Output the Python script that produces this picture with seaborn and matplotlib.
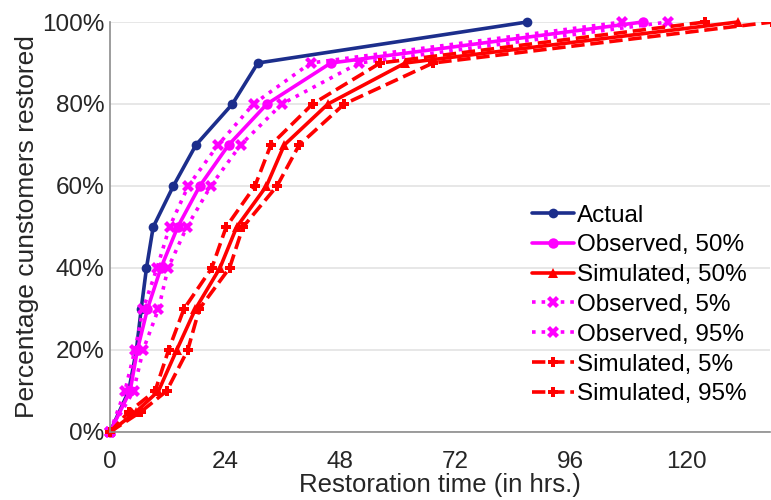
import matplotlib
matplotlib.use("Agg")
import matplotlib.pyplot as plt
import seaborn as sns
import numpy as np
import pandas as pd
from matplotlib.ticker import FuncFormatter

# ---- data (hours vs percentage restored) ----
pct = [0, 10, 20, 30, 40, 50, 60, 70, 80, 90, 100]
pct_sim = [0, 5, 10, 20, 30, 40, 50, 60, 70, 80, 90, 100]

actual_x = [0, 3.9, 5.5, 6.5, 7.6, 9.0, 13.2, 17.9, 25.5, 30.8, 86.9]
obs50_x = [0, 4.2, 5.7, 7.8, 10.6, 14.1, 18.7, 24.7, 32.7, 46.0, 111.0]
obs5_x = [0, 3.1, 5.2, 6.9, 9.8, 12.4, 16.3, 22.5, 29.9, 41.8, 106.7]
obs95_x = [0, 4.9, 6.9, 10.1, 12.1, 16.0, 21.0, 27.2, 35.8, 51.9, 116.2]
sim50_x = [0, 5.5, 10.1, 13.9, 17.8, 22.9, 26.4, 32.6, 36.3, 45.4, 61.5, 130.8]
sim5_x = [0, 4.0, 9.4, 12.2, 15.4, 21.2, 24.2, 30.2, 33.5, 42.2, 56.3, 124.0]
sim95_x = [0, 6.5, 11.8, 16.2, 18.6, 24.9, 27.7, 34.8, 39.4, 48.8, 67.3, 138.0]

xticks = [0, 24, 48, 72, 96, 120]
yticks = [0, 20, 40, 60, 80, 100]

navy = "#1c2e8c"
mag = "#ff00ff"
red = "#ff0000"

sns.set_theme(style="white")
plt.rcParams["font.family"] = ["Liberation Sans", "DejaVu Sans"]

fig = plt.figure(figsize=(7.71, 5.00), dpi=100)
ax = fig.add_axes([110 / 771, 1 - 432 / 500, 660 / 771, 410 / 500])

lw = 2.6
series = [
    (actual_x, pct, "Actual", navy, "-", "o", 7),
    (obs50_x, pct, "Observed, 50%", mag, "-", "o", 7.5),
    (sim50_x, pct_sim, "Simulated, 50%", red, "-", "^", 7),
    (obs5_x, pct, "Observed, 5%", mag, ":", "X", 8),
    (obs95_x, pct, "Observed, 95%", mag, ":", "X", 8),
    (sim5_x, pct_sim, "Simulated, 5%", red, "--", "P", 7),
    (sim95_x, pct_sim, "Simulated, 95%", red, "--", "P", 7),
]
for xs, ys, lab, col, ls, mk, ms in series:
    clip = lab == "Simulated, 95%"
    sns.lineplot(x=xs, y=ys, ax=ax, color=col, linestyle=ls, marker=mk,
                 markersize=ms, markeredgewidth=0, linewidth=lw, label=lab,
                 sort=False, estimator=None, clip_on=clip)

ax.set_xlim(0, 137.5)
ax.set_ylim(0, 100)
ax.set_xticks(xticks)
ax.set_yticks(yticks)
ax.yaxis.set_major_formatter(FuncFormatter(lambda v, p: f"{int(v)}%"))

ax.grid(axis="y", color="#e3e3e3", linewidth=1.2)
ax.grid(axis="x", visible=False)
for s in ["top", "right"]:
    ax.spines[s].set_visible(False)
for s in ["left", "bottom"]:
    ax.spines[s].set_color("#8c8c8c")
    ax.spines[s].set_linewidth(1.2)

ax.tick_params(axis="both", direction="in", length=5, width=1,
               color="#8c8c8c", labelsize=17.5, labelcolor="#262626", pad=4)
ax.tick_params(axis="x", pad=14)
ax.set_xlabel("Restoration time (in hrs.)", fontsize=18.5, color="#262626", labelpad=0)
ax.set_ylabel("Percentage cunstomers restored", fontsize=19, color="#262626", labelpad=2)

leg = ax.legend(loc="lower right", bbox_to_anchor=(0.965, 0.065), frameon=False,
                fontsize=17.5, labelspacing=0.32, handlelength=1.7,
                handletextpad=0.15, borderpad=0, borderaxespad=0)
for t in leg.get_texts():
    t.set_color("black")

fig.savefig("out.png", dpi=100)
